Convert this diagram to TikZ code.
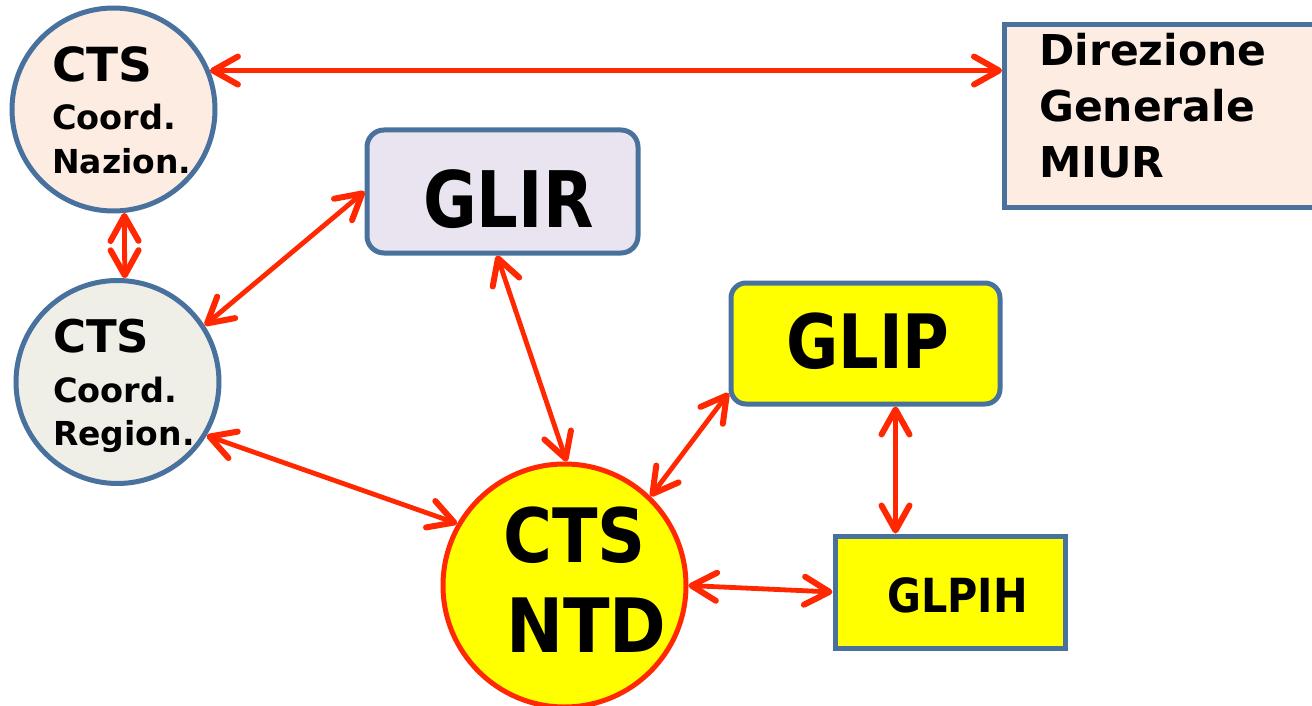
\documentclass[tikz,border=0pt]{standalone}
\usepackage{fontspec}
\usepackage{graphicx}
\setmainfont{DejaVu Sans}
\usetikzlibrary{arrows.meta}

\definecolor{edgeblue}{RGB}{72,113,158}
\definecolor{linkred}{RGB}{255,40,0}
\definecolor{peach}{RGB}{253,236,225}
\definecolor{ivory}{RGB}{239,239,231}
\definecolor{lilac}{RGB}{233,228,239}
\definecolor{brightyellow}{RGB}{255,255,0}

\newcommand\fsz[1]{\fontsize{#1}{#1}\selectfont}
\newcommand\narrow[2]{\scalebox{#1}[1]{#2}}

\begin{document}
\begin{tikzpicture}[x=1pt,y=-1pt,
  roundnode/.style={circle, line width=5pt, draw=edgeblue, inner sep=0pt},
  boxnode/.style={rectangle, line width=5pt, draw=edgeblue, inner sep=0pt},
  txt/.style={anchor=base west, inner sep=0pt, font=\bfseries},
  barb/.tip={Straight Barb[length=25pt,width=28pt,line width=6pt,round]},
  link/.style={draw=linkred, line width=4.8pt, barb-barb}]

\useasboundingbox (0,0) rectangle (1312,706);
\clip (0,0) rectangle (1312,706);

% nodes
\node[roundnode, fill=peach, minimum size=203pt] (naz) at (113.5,109.5) {};
\node[roundnode, fill=ivory, minimum size=203pt] (reg) at (117.5,382) {};
\node[boxnode, fill=peach, minimum width=330pt, minimum height=183pt, anchor=north west] (dir) at (1002,22) {};
\node[boxnode, fill=lilac, rounded corners=17pt, minimum width=271pt, minimum height=123pt] (glir) at (502.5,191.5) {};
\node[boxnode, fill=brightyellow, rounded corners=15pt, minimum width=269pt, minimum height=121pt] (glip) at (865.5,343.5) {};
\node[boxnode, fill=brightyellow, minimum width=230pt, minimum height=112pt] (glpih) at (950,592) {};
\node[circle, line width=5pt, draw=linkred, fill=brightyellow, inner sep=0pt, minimum size=243pt] (ntd) at (564.5,585.5) {};

% labels
\node[txt, font=\bfseries\fsz{47}] (nazA) at (52,82) {CTS};
\node[txt, font=\bfseries\fsz{33.5}] (nazB) at (52,130) {Coord.};
\node[txt, font=\bfseries\fsz{33}] (nazC) at (52,173) {Nazion.};

\node[txt, font=\bfseries\fsz{45}] (regA) at (53,352) {CTS};
\node[txt, font=\bfseries\fsz{33.5}] (regB) at (53,402) {Coord.};
\node[txt, font=\bfseries\fsz{33}] (regC) at (53,445) {Region.};

\node[txt, font=\bfseries\fsz{42.5}] (dirA) at (1039,66) {Direzione};
\node[txt, font=\bfseries\fsz{42.5}] (dirB) at (1039,122) {Generale};
\node[txt, font=\bfseries\fsz{42.5}] (dirC) at (1039,178) {MIUR};

\node[txt, font=\bfseries\fsz{78}] (glirT) at (423,227) {\narrow{0.84}{GLIR}};
\node[txt, font=\bfseries\fsz{75}] (glipT) at (786,368) {\narrow{0.85}{GLIP}};
\node[txt, font=\bfseries\fsz{75}] (ntdA) at (503,562) {\narrow{0.89}{CTS}};
\node[txt, font=\bfseries\fsz{75}] (ntdB) at (506,652) {\narrow{0.91}{NTD}};
\node[txt, font=\bfseries\fsz{47}] (glpihT) at (887,612) {\narrow{0.88}{GLPIH}};

% connectors
\coordinate (dirIn) at (naz.22.8 -| dir.west);
\draw[link] (naz.22.8) -- (dirIn);
\draw[link] (naz.-84) -- (reg.86.4);
\draw[link] (glir.west) -- (reg.33);
\coordinate (glirOut) at ([xshift=-5.5pt]glir.south);
\draw[link] (glirOut) -- (ntd.89.3);
\draw[link] (reg.-31.2) -- (ntd.150.6);
\coordinate (glipOut) at ([yshift=-49.5pt]glip.west);
\draw[link] (glipOut) -- (ntd.46);
\coordinate (glipDown) at ([xshift=30pt]glip.south);
\coordinate (glpihUp) at (glipDown |- glpih.north);
\draw[link] (glipDown) -- (glpihUp);
\draw[link] (ntd.0.5) -- (glpih.west);

\end{tikzpicture}
\end{document}
